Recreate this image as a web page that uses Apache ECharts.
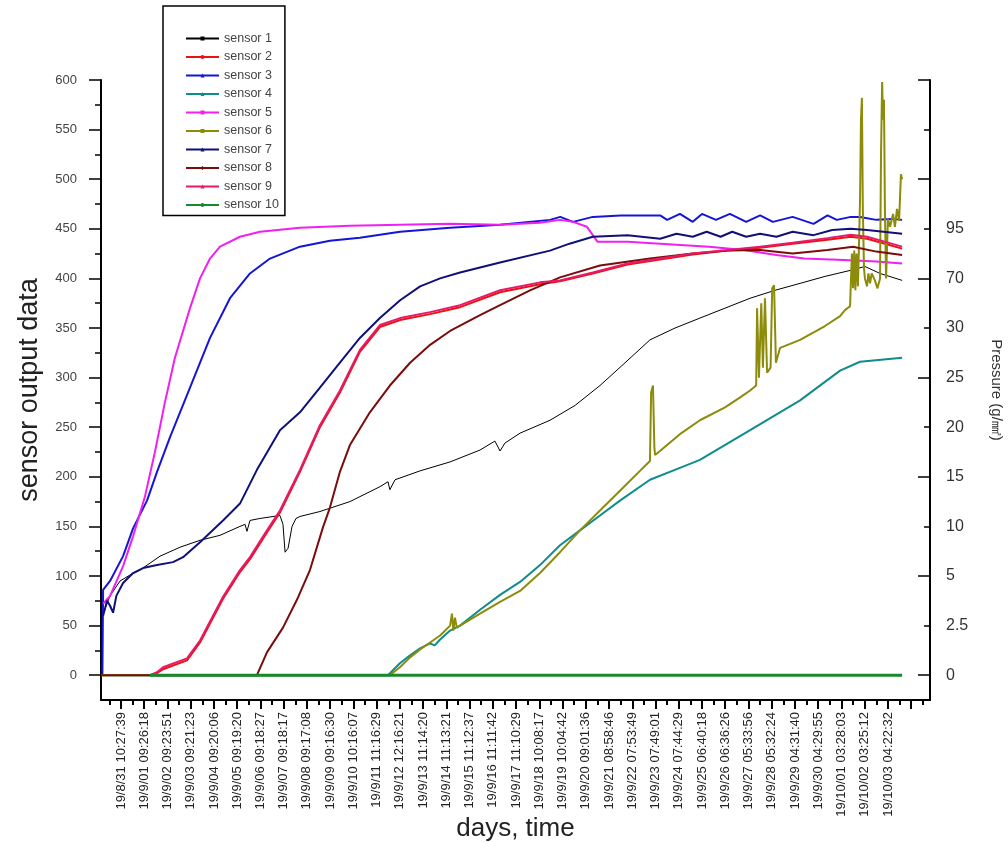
<!DOCTYPE html>
<html>
<head>
<meta charset="utf-8">
<script src="https://cdn.jsdelivr.net/npm/echarts@6/dist/echarts.min.js"></script>
<style>html,body{margin:0;padding:0;background:#fff}#c{width:1008px;height:842px}</style>
</head>
<body>
<div id="c"></div>
<script>
// ---- tick labels ----
const xLabels = ['19/8/31 10:27:39','19/9/01 09:26:18','19/9/02 09:23:51','19/9/03 09:21:23','19/9/04 09:20:06',
'19/9/05 09:19:20','19/9/06 09:18:27','19/9/07 09:18:17','19/9/08 09:17:08','19/9/09 09:16:30','19/9/10 10:16:07',
'19/9/11 11:16:29','19/9/12 12:16:21','19/9/13 11:14:20','19/9/14 11:13:21','19/9/15 11:12:37','19/9/16 11:11:42',
'19/9/17 11:10:29','19/9/18 10:08:17','19/9/19 10:04:42','19/9/20 09:01:36','19/9/21 08:58:46','19/9/22 07:53:49',
'19/9/23 07:49:01','19/9/24 07:44:29','19/9/25 06:40:18','19/9/26 06:36:26','19/9/27 05:33:56','19/9/28 05:32:24',
'19/9/29 04:31:40','19/9/30 04:29:55','19/10/01 03:28:03','19/10/02 03:25:12','19/10/03 04:22:32'];
const leftLabels = [0,50,100,150,200,250,300,350,400,450,500,550,600];
const rightLabels = ['0','2.5','5','10','15','20','25','30','70','95'];
const sensorNames = ['sensor 1','sensor 2','sensor 3','sensor 4','sensor 5','sensor 6','sensor 7','sensor 8','sensor 9','sensor 10'];

// ---- series values: [day index, output] ----
const sensor1 = [[-0.77,62],[-0.47,80],[-0.04,95],[0.39,101],[0.82,106],[1.68,120],[2.54,129],[3.40,136],[4.26,141],
[5.12,150],[5.34,152],[5.42,145],[5.55,156],[5.98,158],[6.84,161],[6.97,152],[7.06,124],[7.19,128],[7.36,150],[7.53,158],
[7.70,160],[8.56,165],[9.85,175],[11.14,190],[11.49,195],[11.57,187],[11.79,197],[12.87,206],[14.16,215],[15.45,227],
[16.09,236],[16.31,226],[16.52,234],[17.17,244],[18.46,257],[19.54,272],[20.61,292],[21.69,315],[22.76,338],[23.84,350],
[24.91,360],[25.99,370],[27.07,380],[28.14,388],[29.22,395],[30.29,402],[31.37,408],[32.01,412],[32.66,405],[33.61,398]];
const sensor2 = [[1.25,0],[1.55,2],[1.81,6],[2.84,15],[3.40,33],[4.39,77],[5.12,104],[5.55,117],[6.28,144],[6.84,164],
[7.70,205],[8.56,250],[9.42,285],[10.28,326],[11.14,351],[12.01,358],[13.30,364],[14.59,371],[16.31,386],[18.03,394],
[18.89,397],[20.3,405],[21.8,414],[23.2,419],[24.6,424],[26.1,428],[27.5,431],[28.9,435],[30.4,439],[31.4,442],[32.1,440],[33.61,430]];
const sensor3 = [[-0.80,0],[-0.77,86],[-0.47,95],[0.09,120],[0.52,148],[1.12,176],[1.55,205],[2.11,240],[2.97,290],
[3.83,340],[4.69,380],[5.55,405],[6.41,420],[7.70,432],[8.99,438],[10.28,441],[12.01,447],[14.16,451],[16.31,454],
[18.46,459],[18.9,462],[19.45,457],[20.3,462],[21.5,463.5],[23.2,463.5],[23.5,459],[24.05,465],[24.6,457],[25.0,465],
[25.6,459],[26.2,465],[26.9,457],[27.5,463.5],[28.05,457],[28.9,462],[29.8,455],[30.4,463.5],[30.8,459],[31.4,462],
[31.8,462],[32.5,459],[33.2,460],[33.61,459]];
const sensor4 = [[-0.86,0],[11.49,0],[12.0,12],[12.44,20],[12.87,27],[13.30,32],[13.5,30],[13.73,36],[14.16,45],[14.59,50],
[15.45,66],[16.31,81],[17.17,94],[18.03,111],[18.89,131],[19.75,146],[20.61,161],[21.47,176],[22.76,197],[24.05,209],
[24.91,217],[27.07,247],[29.22,277],[30.94,307],[31.80,316],[33.61,320]];
const sensor5 = [[-0.77,72],[-0.47,80],[0.09,110],[0.52,140],[1.03,180],[1.46,225],[1.89,275],[2.32,320],[2.97,370],
[3.40,400],[3.83,420],[4.26,432],[5.12,442],[5.98,447],[7.70,451],[9.85,453],[12.01,454],[14.16,455],[16.31,454],
[18.03,456],[18.89,459],[19.45,457],[20.05,452],[20.5,437],[21.8,437],[23.2,435],[24.6,433],[25.3,432],[26.8,428.7],
[28.2,423.6],[29.4,420],[31.1,418.6],[32.5,417],[33.61,415]];
const sensor6 = [[-0.86,0],[11.57,0],[12.0,8],[12.44,18],[12.87,26],[13.30,33],[13.73,40],[14.16,50],[14.24,62],
[14.30,45],[14.37,58],[14.45,48],[14.59,50],[15.45,62],[16.31,74],[17.17,85],[18.03,103],[18.89,124],[19.75,146],
[20.61,166],[21.47,186],[22.33,206],[22.76,216],[22.81,285],[22.89,292],[22.95,230],[22.98,222],[23.19,226],
[24.05,243],[24.91,257],[25.99,270],[26.64,280],[27.07,287],[27.33,292],[27.37,370],[27.45,300],[27.55,375],
[27.62,310],[27.71,380],[27.80,305],[27.95,310],[28.02,390],[28.10,393],[28.18,315],[28.36,330],[29.22,338],
[30.29,352],[30.94,362],[31.15,368],[31.37,372],[31.45,425],[31.50,390],[31.55,428],[31.60,388],[31.65,425],
[31.71,392],[31.76,440],[31.80,480],[31.84,560],[31.88,582],[31.92,470],[31.97,410],[32.01,400],[32.10,392],
[32.16,405],[32.23,395],[32.30,405],[32.44,398],[32.55,390],[32.66,400],[32.70,520],[32.75,598],[32.79,560],
[32.83,580],[32.87,470],[32.92,400],[33.00,460],[33.09,452],[33.22,465],[33.30,452],[33.39,470],[33.48,458],
[33.56,505],[33.61,500]];
const sensor7 = [[-0.77,60],[-0.6,75],[-0.47,70],[-0.34,63],[-0.2,80],[0.09,93],[0.52,103],[0.95,108],[1.55,111],
[2.24,114],[2.67,119],[3.40,134],[4.39,156],[5.12,173],[5.85,207],[6.84,247],[7.70,265],[8.56,290],[9.42,315],
[10.28,340],[11.14,360],[12.01,378],[12.87,392],[13.73,400],[14.59,406],[16.31,416],[18.46,428],[19.3,435],
[20.3,442],[21.8,443.6],[23.2,440],[23.9,445],[24.6,442],[25.2,447],[25.8,442],[26.3,447],[26.9,442],[27.5,445],
[28.2,442],[28.9,447],[29.8,443.6],[30.6,448.7],[31.4,450],[32.1,448.7],[33.61,445]];
const sensor8 = [[-0.86,0],[5.85,0],[5.90,2],[6.28,23],[6.97,48],[7.57,76],[8.13,106],[8.69,149],[8.99,169],
[9.42,205],[9.85,232],[10.71,265],[11.57,292],[12.44,315],[13.30,333],[14.16,347],[15.45,363],[16.31,373],
[17.6,388],[18.89,401],[20.61,413],[22.76,420],[24.6,425],[26.1,428],[27.5,428.7],[28.9,425],[30.4,428.7],
[31.5,432],[32.5,427],[33.61,423.7]];
const sensor9 = [[1.25,0],[1.55,3],[1.81,8],[2.84,17],[3.40,35],[4.39,79],[5.12,106],[5.55,119],[6.28,146],[6.84,166],
[7.70,207],[8.56,252],[9.42,287],[10.28,328],[11.14,353],[12.01,360],[13.30,366],[14.59,373],[16.31,388],[18.03,396],
[18.89,398],[20.3,406],[21.8,415],[23.2,420],[24.6,425],[26.1,428.7],[27.5,432],[28.9,436],[30.4,440.6],[31.4,444],
[32.1,442],[33.61,432]];
const sensor10 = [[1.25,0],[33.61,0]];

const sensorData = [sensor1,sensor2,sensor3,sensor4,sensor5,sensor6,sensor7,sensor8,sensor9,sensor10];
const colors = ['#000000','#EE1111','#1515D5','#0F8C8C','#F020F0','#8C8C0A','#10107A','#7A0C0C','#E61A6A','#178A2E'];
const symbols = ['rect','none','triangle','triangle','rect','rect','triangle','diamond','triangle','circle'];
const widths = [1,2,2,2,2,2,2,2,2,3];

const FONT = '"Liberation Sans", Arial, sans-serif';
const range = (a,b,s)=>{const r=[];for(let v=a;v<=b+1e-9;v+=s)r.push(+v.toFixed(2));return r;};

const chart = echarts.init(document.getElementById('c'), null, {renderer:'canvas'});
chart.setOption({
  animation:false,
  backgroundColor:'#fff',
  grid:{left:101,right:78,top:80,bottom:142,containLabel:false,outerBoundsMode:'none'},
  legend:{
    orient:'vertical', left:163, top:6,
    padding:[26,6,4,22], itemGap:5.5, itemWidth:33, itemHeight:5,
    borderColor:'#000', borderWidth:1.5, backgroundColor:'#fff',
    textStyle:{fontSize:12.5, color:'#444', fontFamily:FONT, lineHeight:12.3},
    data:sensorNames
  },
  xAxis:[{
    type:'value', min:-0.86, max:34.81,
    axisLine:{show:true,onZero:false,lineStyle:{color:'#000',width:2}},
    axisTick:{show:true,customValues:range(0,34,1),length:9,lineStyle:{color:'#000',width:2}},
    axisLabel:{show:true,customValues:range(0,33,1),rotate:90,fontSize:13,color:'#222',fontFamily:FONT,margin:12,
      formatter:v=>xLabels[Math.round(v)]||''},
    splitLine:{show:false},
    name:'days, time', nameLocation:'middle', nameGap:116, nameMoveOverlap:false,
    nameTextStyle:{fontSize:26,color:'#222',fontFamily:FONT}
  },{
    type:'value', min:-0.86, max:34.81, position:'bottom',
    axisLine:{show:false,onZero:false},
    axisTick:{show:true,customValues:range(-0.5,34.5,1),length:5,lineStyle:{color:'#000',width:2}},
    axisLabel:{show:false}, splitLine:{show:false}
  }],
  yAxis:[{
    type:'value', min:-25, max:600, position:'left',
    axisLine:{show:true,onZero:false,lineStyle:{color:'#000',width:2}},
    axisTick:{show:true,customValues:leftLabels,length:12,lineStyle:{color:'#000',width:1.5}},
    axisLabel:{show:true,customValues:leftLabels,fontSize:13,color:'#444',fontFamily:FONT,margin:24},
    splitLine:{show:false},
    name:'sensor output data', nameLocation:'middle', nameGap:58, nameMoveOverlap:false,
    nameTextStyle:{fontSize:27,color:'#222',fontFamily:FONT}
  },{
    type:'value', min:-25, max:600, position:'left',
    axisLine:{show:false,onZero:false},
    axisTick:{show:true,customValues:range(25,575,50),length:6,lineStyle:{color:'#000',width:1.5}},
    axisLabel:{show:false}, splitLine:{show:false}
  },{
    type:'value', min:-25, max:600, position:'right',
    axisLine:{show:true,onZero:false,lineStyle:{color:'#000',width:2}},
    axisTick:{show:true,inside:true,customValues:range(0,600,100),length:12,lineStyle:{color:'#000',width:1.5}},
    axisLabel:{show:true,customValues:range(0,450,50),fontSize:16,color:'#333',fontFamily:FONT,margin:16,
      formatter:v=>rightLabels[Math.round(v/50)]||''},
    splitLine:{show:false},
    name:'Pressure (g/㎟)', nameLocation:'middle', nameGap:59, nameRotate:-90, nameMoveOverlap:false,
    nameTextStyle:{fontSize:15,color:'#333',fontFamily:FONT}
  },{
    type:'value', min:-25, max:600, position:'right',
    axisLine:{show:false,onZero:false},
    axisTick:{show:true,inside:true,customValues:range(50,550,100),length:6,lineStyle:{color:'#000',width:1.5}},
    axisLabel:{show:false}, splitLine:{show:false}
  }],
  series:sensorData.map((d,i)=>({
    name:sensorNames[i], type:'line', xAxisIndex:0, yAxisIndex:0,
    data:d, showSymbol:false, symbol:symbols[i], symbolSize:5,
    lineStyle:{color:colors[i],width:widths[i]}, itemStyle:{color:colors[i]},
    emphasis:{disabled:true}
  }))
});
</script>
</body>
</html>
